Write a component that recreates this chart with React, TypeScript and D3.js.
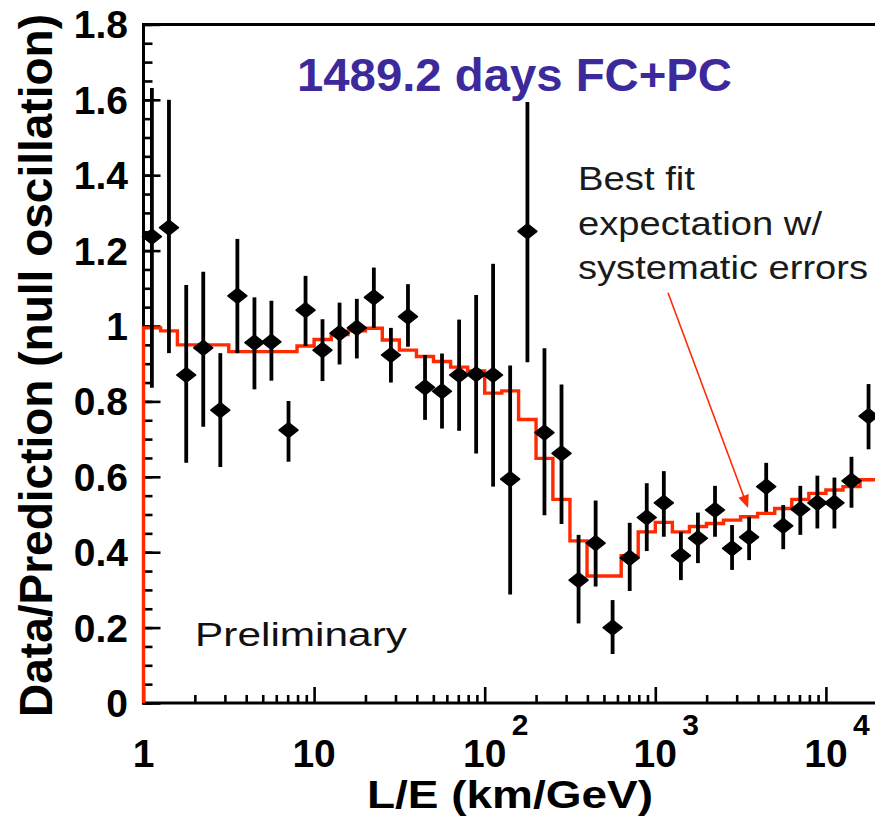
import React, { useEffect, useRef } from 'react';
import * as d3 from 'd3';

const WIDTH = 875;
const HEIGHT = 822;
const X_LEFT = 143.5;   // pixel of L/E = 1
const X_DECADE = 170.6; // pixels per decade
const Y_BOTTOM = 703;   // pixel of ratio = 0
const Y_TOP = 24.4;     // pixel of ratio = 1.8
const FONT = 'Liberation Sans, Arial, Helvetica, sans-serif';
const RED = '#ff2a00';

// L/E bin centres and edges (km/GeV)
const BIN_CENTERS = [
  1.12, 1.41, 1.78, 2.24, 2.82, 3.55, 4.47, 5.62, 7.08, 8.91,
  11.2, 14.1, 17.8, 22.4, 28.2, 35.5, 44.7, 56.2, 70.8, 89.1,
  112, 141, 178, 224, 282, 355, 447, 562, 708, 891,
  1122, 1413, 1778, 2239, 2818, 3548, 4467, 5623, 7079, 8913,
  11220, 14125, 17783,
];
const BIN_EDGES = [
  1, 1.26, 1.58, 2, 2.51, 3.16, 3.98, 5.01, 6.31, 7.94,
  10, 12.6, 15.8, 20, 25.1, 31.6, 39.8, 50.1, 63.1, 79.4,
  100, 126, 158, 200, 251, 316, 398, 501, 631, 794,
  1000, 1259, 1585, 1995, 2512, 3162, 3981, 5012, 6310, 7943,
  10000, 12589, 15849, 19953,
];

// data / prediction with error bar ends
const RATIO = [
  1.237, 1.261, 0.870, 0.942, 0.777, 1.080, 0.956, 0.958, 0.724, 1.042,
  0.936, 0.981, 0.995, 1.076, 0.923, 1.025, 0.837, 0.827, 0.870, 0.872,
  0.870, 0.594, 1.251, 0.717, 0.662, 0.326, 0.424, 0.200, 0.385, 0.492,
  0.531, 0.391, 0.437, 0.512, 0.410, 0.440, 0.574, 0.470, 0.514, 0.531,
  0.531, 0.589, 0.761,
];
const ERR_TOP = [
  1.631, 1.600, 1.109, 1.144, 0.928, 1.231, 1.076, 1.067, 0.801, 1.133,
  1.018, 1.062, 1.072, 1.155, 0.995, 1.111, 0.923, 0.927, 1.017, 1.082,
  1.165, 0.895, 1.594, 0.941, 0.845, 0.446, 0.537, 0.273, 0.478, 0.583,
  0.615, 0.454, 0.505, 0.576, 0.472, 0.494, 0.637, 0.525, 0.576, 0.603,
  0.598, 0.653, 0.846,
];
const ERR_BOTTOM = [
  0.836, 0.928, 0.637, 0.733, 0.626, 0.928, 0.832, 0.855, 0.640, 0.947,
  0.854, 0.898, 0.914, 0.995, 0.850, 0.945, 0.751, 0.728, 0.722, 0.662,
  0.574, 0.288, 0.904, 0.498, 0.475, 0.211, 0.309, 0.130, 0.297, 0.403,
  0.441, 0.326, 0.371, 0.441, 0.353, 0.379, 0.507, 0.408, 0.446, 0.463,
  0.463, 0.518, 0.673,
];

// best fit expectation, one value per bin
const EXPECTED = [
  0.995, 0.987, 0.950, 0.950, 0.950, 0.932, 0.932, 0.932, 0.932, 0.947,
  0.964, 0.977, 0.987, 0.994, 0.963, 0.936, 0.919, 0.906, 0.891, 0.881,
  0.822, 0.828, 0.752, 0.649, 0.540, 0.430, 0.337, 0.337, 0.391, 0.454,
  0.479, 0.454, 0.468, 0.476, 0.485, 0.494, 0.503, 0.516, 0.540, 0.556,
  0.565, 0.574, 0.592,
];

const Y_TICKS = [0, 0.2, 0.4, 0.6, 0.8, 1, 1.2, 1.4, 1.6, 1.8];
const Y_TICK_LABELS = ['0', '0.2', '0.4', '0.6', '0.8', '1', '1.2', '1.4', '1.6', '1.8'];
const X_DECADES = [1, 10, 100, 1000, 10000];
const X_TICK_BASES = ['1', '10', '10', '10', '10'];
const X_TICK_EXPONENTS = ['', '', '2', '3', '4'];
const MINOR_STEPS = [2, 3, 4, 5, 6, 7, 8, 9];

// arrow from the annotation to the expectation curve (L/E, ratio)
const ARROW_FROM = [1187, 1.088];
const ARROW_TO = [3500, 0.517];

const NOTE_LINES = ['Best fit', 'expectation w/', 'systematic errors'];
const NOTE_WIDTHS = [117, 244, 290];

export default function App() {
  const ref = useRef<SVGGElement>(null);

  useEffect(() => {
    const svg = d3.select(ref.current);
    svg.selectAll('*').remove();

    const x = d3.scaleLog().domain([1, 1e4]).range([X_LEFT, X_LEFT + 4 * X_DECADE]);
    const y = d3.scaleLinear().domain([0, 1.8]).range([Y_BOTTOM, Y_TOP]);

    // frame top line
    svg.append('line')
      .attr('x1', X_LEFT).attr('x2', WIDTH + 10)
      .attr('y1', Y_TOP).attr('y2', Y_TOP)
      .attr('stroke', '#000').attr('stroke-width', 3);

    // y axis, ticks pointing inside
    const yMinor = d3.range(0, 1.8001, 0.05);
    const yMinorAxis = d3.axisRight(y).tickValues(yMinor).tickSize(9).tickFormat(() => '');
    const yMajorAxis = d3.axisRight(y).tickValues(Y_TICKS).tickSize(17).tickFormat(() => '');
    [yMinorAxis, yMajorAxis].forEach((ax) => {
      const g = svg.append('g').attr('transform', `translate(${X_LEFT},0)`).call(ax);
      g.select('.domain').remove();
      g.selectAll('line').attr('stroke', '#000').attr('stroke-width', 2.6);
    });
    svg.append('line')
      .attr('x1', X_LEFT).attr('x2', X_LEFT)
      .attr('y1', Y_TOP - 1.5).attr('y2', Y_BOTTOM + 1.5)
      .attr('stroke', '#000').attr('stroke-width', 3);

    // x axis, ticks pointing up
    const xMinor: number[] = [];
    X_DECADES.forEach((d) => MINOR_STEPS.forEach((m) => xMinor.push(d * m)));
    const xMinorAxis = d3.axisTop(x).tickValues(xMinor).tickSize(8).tickFormat(() => '');
    const xMajorAxis = d3.axisTop(x).tickValues(X_DECADES).tickSize(16).tickFormat(() => '');
    [xMinorAxis, xMajorAxis].forEach((ax) => {
      const g = svg.append('g').attr('transform', `translate(0,${Y_BOTTOM})`).call(ax);
      g.select('.domain').remove();
      g.selectAll('line').attr('stroke', '#000').attr('stroke-width', 2.6);
    });
    svg.append('line')
      .attr('x1', X_LEFT - 1.5).attr('x2', WIDTH + 10)
      .attr('y1', Y_BOTTOM).attr('y2', Y_BOTTOM)
      .attr('stroke', '#000').attr('stroke-width', 3);

    // y tick labels
    svg.append('g').selectAll('text')
      .data(Y_TICKS)
      .enter().append('text')
      .attr('x', 128)
      .attr('y', (d) => y(d))
      .attr('dy', '0.36em')
      .attr('text-anchor', 'end')
      .attr('font-family', FONT)
      .attr('font-weight', 'bold')
      .attr('font-size', 39)
      .text((_, i) => Y_TICK_LABELS[i]);

    // x tick labels with exponents
    const xl = svg.append('g');
    X_DECADES.forEach((d, i) => {
      xl.append('text')
        .attr('x', x(d)).attr('y', 767)
        .attr('text-anchor', 'middle')
        .attr('font-family', FONT).attr('font-weight', 'bold').attr('font-size', 39)
        .text(X_TICK_BASES[i]);
      if (X_TICK_EXPONENTS[i]) {
        xl.append('text')
          .attr('x', x(d) + 27).attr('y', 735)
          .attr('font-family', FONT).attr('font-weight', 'bold').attr('font-size', 30)
          .text(X_TICK_EXPONENTS[i]);
      }
    });

    // best fit expectation histogram
    const stepPoints: [number, number][] = [[BIN_EDGES[0], 0]];
    EXPECTED.forEach((v, i) => stepPoints.push([BIN_EDGES[i], v]));
    stepPoints.push([BIN_EDGES[EXPECTED.length], EXPECTED[EXPECTED.length - 1]]);
    const step = d3.line<[number, number]>()
      .x((d) => x(d[0]))
      .y((d) => y(d[1]))
      .curve(d3.curveStepAfter);
    svg.append('path')
      .attr('d', step(stepPoints))
      .attr('fill', 'none')
      .attr('stroke', RED)
      .attr('stroke-width', 3.4);

    // data points with error bars
    const pts = svg.append('g');
    BIN_CENTERS.forEach((c, i) => {
      pts.append('line')
        .attr('x1', x(c)).attr('x2', x(c))
        .attr('y1', y(ERR_TOP[i])).attr('y2', y(ERR_BOTTOM[i]))
        .attr('stroke', '#000').attr('stroke-width', 3.8);
      const cx = x(c);
      const cy = y(RATIO[i]);
      pts.append('path')
        .attr('d', `M${cx - 9.5},${cy} L${cx},${cy - 7.5} L${cx + 9.5},${cy} L${cx},${cy + 7.5} Z`)
        .attr('fill', '#000')
        .attr('stroke', '#000')
        .attr('stroke-width', 1.5)
        .attr('stroke-linejoin', 'round');
    });

    // annotation arrow
    const ax1 = x(ARROW_FROM[0]);
    const ay1 = y(ARROW_FROM[1]);
    const ax2 = x(ARROW_TO[0]);
    const ay2 = y(ARROW_TO[1]);
    const ang = Math.atan2(ay2 - ay1, ax2 - ax1);
    const headLen = 13;
    const headHalf = 5.5;
    const bx = ax2 - headLen * Math.cos(ang);
    const by = ay2 - headLen * Math.sin(ang);
    svg.append('line')
      .attr('x1', ax1).attr('y1', ay1).attr('x2', bx).attr('y2', by)
      .attr('stroke', RED).attr('stroke-width', 1.6);
    svg.append('path')
      .attr('d', `M${ax2},${ay2} L${bx - headHalf * Math.sin(ang)},${by + headHalf * Math.cos(ang)} L${bx + headHalf * Math.sin(ang)},${by - headHalf * Math.cos(ang)} Z`)
      .attr('fill', RED);
  }, []);

  return (
    <svg
      width={WIDTH}
      height={HEIGHT}
      style={{ position: 'absolute', left: 0, top: 0, background: '#fff' }}
    >
      <rect width={WIDTH} height={HEIGHT} fill="#fff" />
      <g ref={ref} />
      <text
        x={297} y={91}
        fontFamily={FONT} fontWeight="bold" fontSize={47}
        fill="#3c2a9c"
        textLength={435} lengthAdjust="spacingAndGlyphs"
      >
        1489.2 days FC+PC
      </text>
      {NOTE_LINES.map((t, i) => (
        <text
          key={t}
          x={578} y={190 + i * 44.5}
          fontFamily={FONT} fontSize={33} fill="#1a1a1a"
          textLength={NOTE_WIDTHS[i]} lengthAdjust="spacingAndGlyphs"
        >
          {t}
        </text>
      ))}
      <text
        x={195} y={646}
        fontFamily={FONT} fontSize={33} fill="#111"
        textLength={212} lengthAdjust="spacingAndGlyphs"
      >
        Preliminary
      </text>
      <text
        x={510} y={808}
        textAnchor="middle"
        fontFamily={FONT} fontWeight="bold" fontSize={39}
        textLength={286} lengthAdjust="spacingAndGlyphs"
      >
        L/E (km/GeV)
      </text>
      <text
        transform="translate(52,365.5) rotate(-90)"
        textAnchor="middle"
        fontFamily={FONT} fontWeight="bold" fontSize={46}
        textLength={703} lengthAdjust="spacingAndGlyphs"
      >
        Data/Prediction (null oscillation)
      </text>
    </svg>
  );
}
